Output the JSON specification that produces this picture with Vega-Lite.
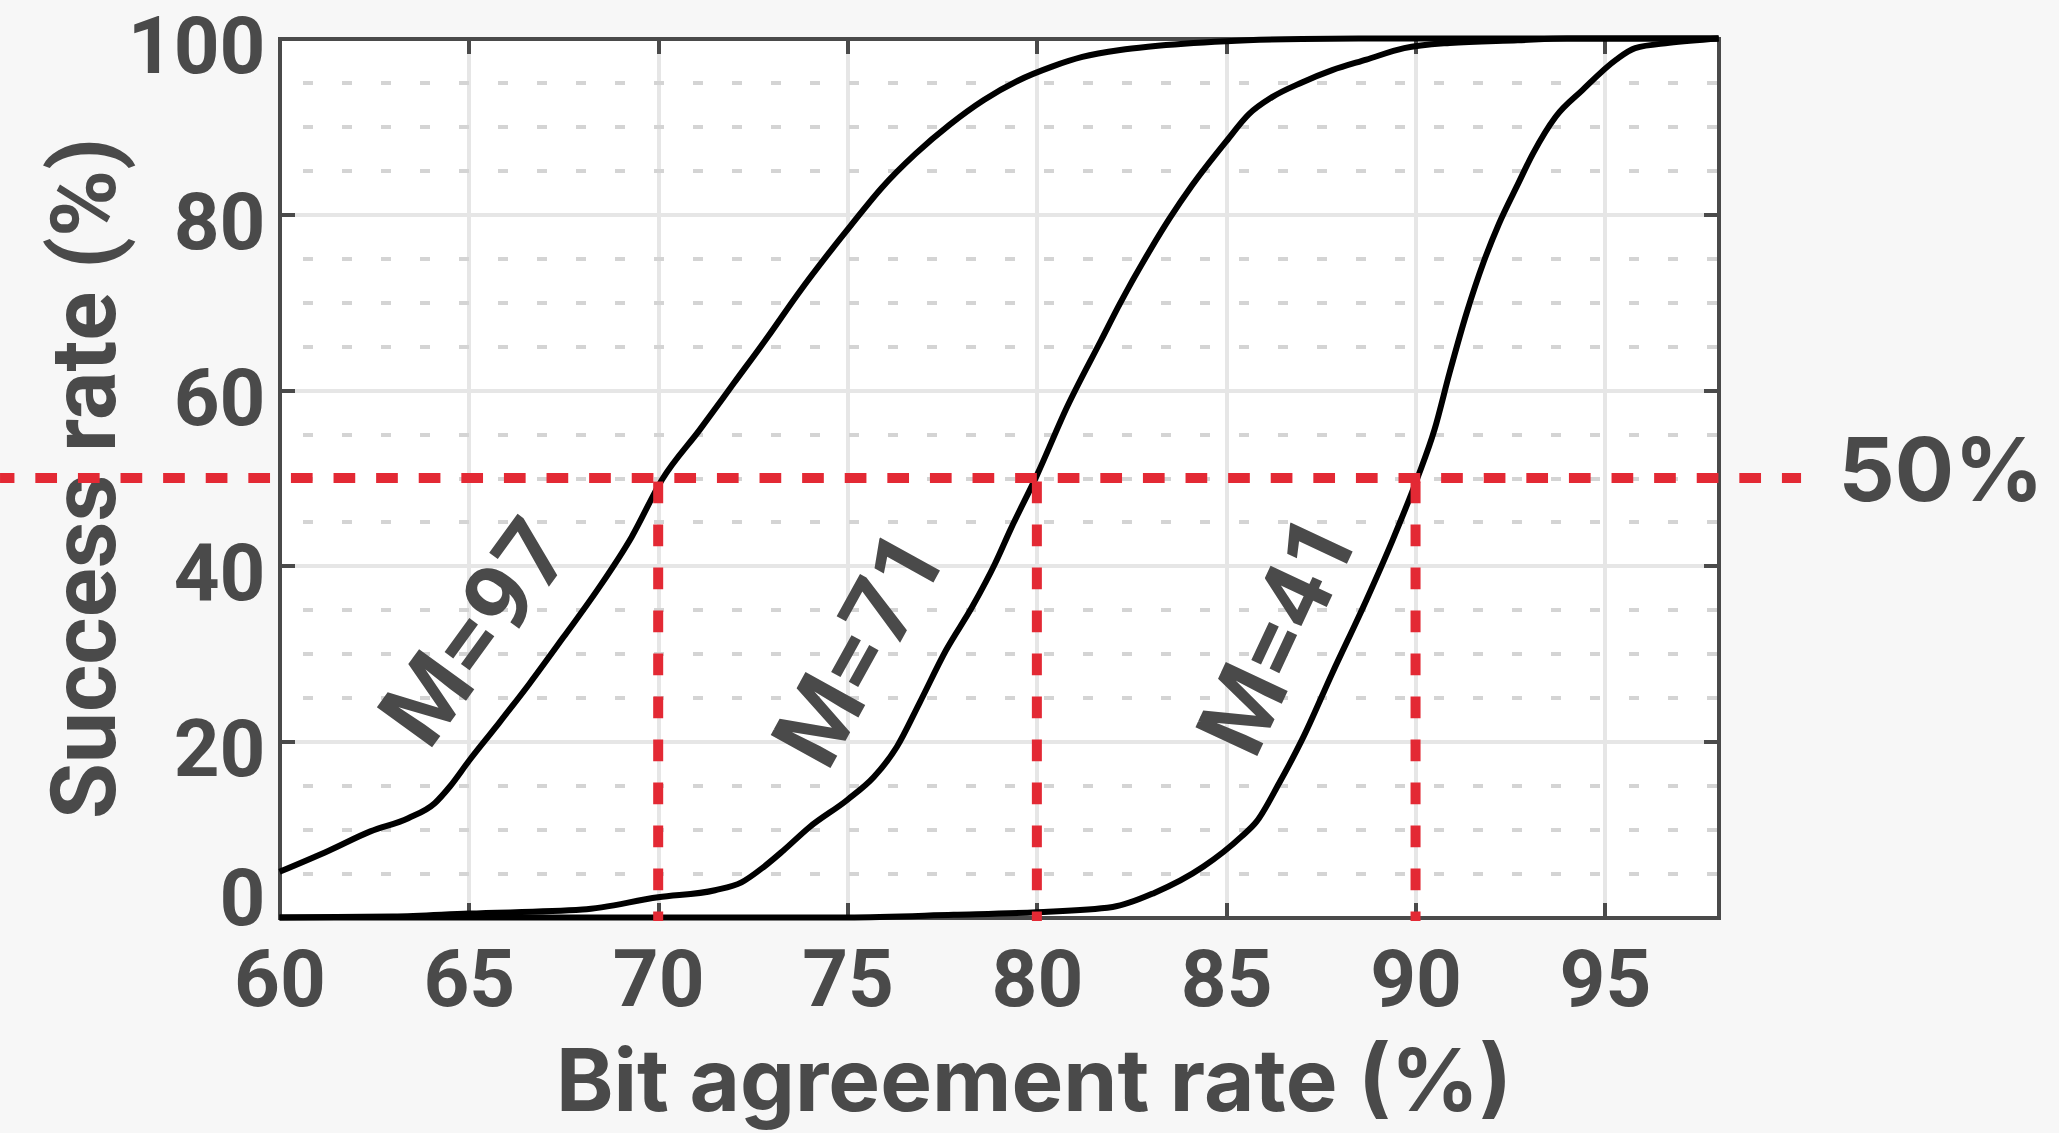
{
  "$schema": "https://vega.github.io/schema/vega-lite/v6.json",
  "width": 1439,
  "height": 879,
  "autosize": {"type": "none"},
  "padding": {"left": 279.5, "top": 38.5, "right": 340.5, "bottom": 215.5},
  "background": "#f7f7f7",
  "config": {
    "view": {"fill": "white", "stroke": null},
    "axis": {
      "domainColor": "#4a4a4a", "domainWidth": 4, "domainCap": "square",
      "tickColor": "#4a4a4a", "tickWidth": 4,
      "labelColor": "#4a4a4a", "titleColor": "#4a4a4a",
      "labelFont": "Roboto", "labelFontWeight": "bold", "labelFontSize": 80,
      "gridColor": "#e6e6e6", "gridWidth": 4,
      "labelFlush": false, "labelOverlap": false
    }
  },
  "datasets": {
    "curves": [
      {"curve": "M=97", "x": 60, "y": 5.2}, {"curve": "M=97", "x": 61.3, "y": 7.6}, {"curve": "M=97", "x": 62.4, "y": 9.8},
      {"curve": "M=97", "x": 63.4, "y": 11.3}, {"curve": "M=97", "x": 64.1, "y": 13.0}, {"curve": "M=97", "x": 64.5, "y": 14.9},
      {"curve": "M=97", "x": 65.0, "y": 17.8}, {"curve": "M=97", "x": 65.7, "y": 21.6}, {"curve": "M=97", "x": 66.6, "y": 26.6},
      {"curve": "M=97", "x": 67.5, "y": 31.9}, {"curve": "M=97", "x": 68.4, "y": 37.3}, {"curve": "M=97", "x": 69.3, "y": 43.3},
      {"curve": "M=97", "x": 70.1, "y": 49.8}, {"curve": "M=97", "x": 71.1, "y": 55.5}, {"curve": "M=97", "x": 72.0, "y": 60.8},
      {"curve": "M=97", "x": 72.9, "y": 66.1}, {"curve": "M=97", "x": 73.7, "y": 71.0}, {"curve": "M=97", "x": 74.6, "y": 76.1},
      {"curve": "M=97", "x": 75.1, "y": 78.8}, {"curve": "M=97", "x": 75.9, "y": 83.0}, {"curve": "M=97", "x": 76.8, "y": 86.9},
      {"curve": "M=97", "x": 77.7, "y": 90.2}, {"curve": "M=97", "x": 78.6, "y": 93.0}, {"curve": "M=97", "x": 79.5, "y": 95.2},
      {"curve": "M=97", "x": 80.4, "y": 96.8}, {"curve": "M=97", "x": 81.2, "y": 97.9}, {"curve": "M=97", "x": 82.2, "y": 98.7},
      {"curve": "M=97", "x": 83.0, "y": 99.1}, {"curve": "M=97", "x": 85.0, "y": 99.7}, {"curve": "M=97", "x": 87.0, "y": 99.95},
      {"curve": "M=97", "x": 88.5, "y": 100}, {"curve": "M=97", "x": 98, "y": 100},

      {"curve": "M=71", "x": 60, "y": 0}, {"curve": "M=71", "x": 63, "y": 0.1}, {"curve": "M=71", "x": 65, "y": 0.45},
      {"curve": "M=71", "x": 68, "y": 0.9}, {"curve": "M=71", "x": 70, "y": 2.3}, {"curve": "M=71", "x": 71.5, "y": 3.1},
      {"curve": "M=71", "x": 72.2, "y": 4.0}, {"curve": "M=71", "x": 72.8, "y": 5.8}, {"curve": "M=71", "x": 73.3, "y": 7.6},
      {"curve": "M=71", "x": 74.0, "y": 10.3}, {"curve": "M=71", "x": 75.0, "y": 13.4}, {"curve": "M=71", "x": 75.7, "y": 16.0},
      {"curve": "M=71", "x": 76.3, "y": 19.4}, {"curve": "M=71", "x": 76.9, "y": 24.4}, {"curve": "M=71", "x": 77.6, "y": 30.4},
      {"curve": "M=71", "x": 78.3, "y": 35.4}, {"curve": "M=71", "x": 78.9, "y": 40.3}, {"curve": "M=71", "x": 79.3, "y": 44.1},
      {"curve": "M=71", "x": 80.0, "y": 50.3}, {"curve": "M=71", "x": 80.8, "y": 58.1}, {"curve": "M=71", "x": 81.7, "y": 65.7},
      {"curve": "M=71", "x": 82.2, "y": 69.9}, {"curve": "M=71", "x": 83.0, "y": 76.0}, {"curve": "M=71", "x": 83.5, "y": 79.5},
      {"curve": "M=71", "x": 84.1, "y": 83.3}, {"curve": "M=71", "x": 85.0, "y": 88.3}, {"curve": "M=71", "x": 85.6, "y": 91.4},
      {"curve": "M=71", "x": 86.2, "y": 93.3}, {"curve": "M=71", "x": 87.0, "y": 95.0}, {"curve": "M=71", "x": 87.8, "y": 96.4},
      {"curve": "M=71", "x": 88.7, "y": 97.6}, {"curve": "M=71", "x": 89.7, "y": 98.9}, {"curve": "M=71", "x": 90.9, "y": 99.5},
      {"curve": "M=71", "x": 92.7, "y": 99.8}, {"curve": "M=71", "x": 94, "y": 100}, {"curve": "M=71", "x": 98, "y": 100},

      {"curve": "M=41", "x": 60, "y": 0}, {"curve": "M=41", "x": 75, "y": 0}, {"curve": "M=41", "x": 77.8, "y": 0.3},
      {"curve": "M=41", "x": 80.0, "y": 0.6}, {"curve": "M=41", "x": 82.0, "y": 1.2}, {"curve": "M=41", "x": 83.1, "y": 2.8},
      {"curve": "M=41", "x": 84.4, "y": 5.8}, {"curve": "M=41", "x": 85.4, "y": 9.2}, {"curve": "M=41", "x": 85.8, "y": 10.9},
      {"curve": "M=41", "x": 86.4, "y": 15.3}, {"curve": "M=41", "x": 87.0, "y": 20.2}, {"curve": "M=41", "x": 87.8, "y": 27.8},
      {"curve": "M=41", "x": 88.7, "y": 36.1}, {"curve": "M=41", "x": 89.4, "y": 43.0}, {"curve": "M=41", "x": 90.05, "y": 50.0},
      {"curve": "M=41", "x": 90.5, "y": 55.5}, {"curve": "M=41", "x": 90.9, "y": 62.0}, {"curve": "M=41", "x": 91.35, "y": 68.8},
      {"curve": "M=41", "x": 91.8, "y": 74.6}, {"curve": "M=41", "x": 92.2, "y": 78.9}, {"curve": "M=41", "x": 92.7, "y": 83.4},
      {"curve": "M=41", "x": 93.1, "y": 86.9}, {"curve": "M=41", "x": 93.7, "y": 91.1}, {"curve": "M=41", "x": 94.4, "y": 94.1},
      {"curve": "M=41", "x": 95.3, "y": 97.6}, {"curve": "M=41", "x": 95.8, "y": 98.9}, {"curve": "M=41", "x": 96.7, "y": 99.5},
      {"curve": "M=41", "x": 98, "y": 100}
    ],
    "hline": [{"x": 52.62, "x2": 100.18, "y": 50}],
    "vlines": [{"x": 70, "y": 50, "y2": -0.4}, {"x": 80, "y": 50, "y2": -0.4}, {"x": 90, "y": 50, "y2": -0.4}],
    "labels": [
      {"label": "M=97", "x": 65.25, "y": 32.2},
      {"label": "M=71", "x": 75.4, "y": 30.4},
      {"label": "M=41", "x": 86.45, "y": 32.0},
      {"label": "50%", "x": 101.17, "y": 50}
    ]
  },
  "layer": [
    {
      "data": {"name": "curves"},
      "mark": {"type": "line", "color": "black", "strokeWidth": 6, "interpolate": "monotone", "clip": false},
      "encoding": {
        "x": {
          "field": "x", "type": "quantitative",
          "scale": {"domain": [60, 98], "nice": false, "zero": false},
          "axis": {
            "orient": "bottom",
            "values": [60, 65, 70, 75, 80, 85, 90, 95],
            "grid": true, "tickSize": -15, "labelPadding": 39.5,
            "title": "Bit agreement rate (%)",
            "titleFont": "Inter", "titleFontSize": 87, "titleFontWeight": "bold", "titlePadding": 20,
            "titleX": 754, "titleAlign": "center"
          }
        },
        "y": {
          "field": "y", "type": "quantitative",
          "scale": {"domain": [0, 100], "nice": false},
          "axis": {
            "orient": "left",
            "values": [0, 5, 10, 15, 20, 25, 30, 35, 40, 45, 50, 55, 60, 65, 70, 75, 80, 85, 90, 95, 100],
            "labelExpr": "datum.value % 20 === 0 ? datum.label : ''",
            "grid": true,
            "gridDash": {"condition": {"test": "datum.value % 20 === 0", "value": [1, 0]}, "value": [10, 29]},
            "gridColor": {"condition": {"test": "datum.value % 20 === 0", "value": "#e6e6e6"}, "value": "#d4d4d4"},
            "gridDashOffset": 16,
            "tickOpacity": {"condition": {"test": "datum.value % 20 === 0", "value": 1}, "value": 0},
            "tickSize": -15, "labelPadding": 29.5,
            "labelOffset": {"condition": {"test": "datum.value === 0", "value": -17}, "value": 10},
            "title": "Success rate (%)",
            "titleFont": "Roboto", "titleFontSize": 91, "titleFontWeight": "bold", "titlePadding": -6
          }
        },
        "detail": {"field": "curve", "type": "nominal"}
      }
    },
    {
      "data": {"name": "hline"},
      "mark": {"type": "rule", "color": "#e32934", "strokeWidth": 10, "strokeDash": [21.7, 20.9], "strokeDashOffset": 7.3, "clip": false},
      "encoding": {
        "x": {
          "field": "x", "type": "quantitative",
          "axis": {"orient": "top", "values": [65, 70, 75, 80, 85, 90, 95], "labels": false, "grid": false, "tickSize": -15, "title": null}
        },
        "x2": {"field": "x2"},
        "y": {
          "field": "y", "type": "quantitative",
          "axis": {"orient": "right", "values": [20, 40, 60, 80], "labels": false, "grid": false, "tickSize": -15, "title": null}
        }
      }
    },
    {
      "data": {"name": "vlines"},
      "mark": {"type": "rule", "color": "#e32934", "strokeWidth": 10, "strokeDash": [21.7, 21.3], "strokeDashOffset": -3.5, "clip": false},
      "encoding": {
        "x": {"field": "x", "type": "quantitative", "axis": null},
        "y": {"field": "y", "type": "quantitative", "axis": null},
        "y2": {"field": "y2"}
      }
    },
    {
      "data": {"name": "labels"},
      "transform": [{"filter": "datum.label === 'M=97'"}],
      "mark": {"type": "text", "angle": 306, "font": "Roboto", "fontWeight": "bold", "fontSize": 96, "color": "#4a4a4a", "align": "center", "baseline": "middle"},
      "encoding": {
        "x": {"field": "x", "type": "quantitative", "axis": null},
        "y": {"field": "y", "type": "quantitative", "axis": null},
        "text": {"field": "label"}
      }
    },
    {
      "data": {"name": "labels"},
      "transform": [{"filter": "datum.label === 'M=71'"}],
      "mark": {"type": "text", "angle": 299, "font": "Roboto", "fontWeight": "bold", "fontSize": 96, "color": "#4a4a4a", "align": "center", "baseline": "middle"},
      "encoding": {
        "x": {"field": "x", "type": "quantitative", "axis": null},
        "y": {"field": "y", "type": "quantitative", "axis": null},
        "text": {"field": "label"}
      }
    },
    {
      "data": {"name": "labels"},
      "transform": [{"filter": "datum.label === 'M=41'"}],
      "mark": {"type": "text", "angle": 295, "font": "Roboto", "fontWeight": "bold", "fontSize": 96, "color": "#4a4a4a", "align": "center", "baseline": "middle"},
      "encoding": {
        "x": {"field": "x", "type": "quantitative", "axis": null},
        "y": {"field": "y", "type": "quantitative", "axis": null},
        "text": {"field": "label"}
      }
    },
    {
      "data": {"name": "labels"},
      "transform": [{"filter": "datum.label === '50%'"}],
      "mark": {"type": "text", "font": "Inter", "fontWeight": "bold", "fontSize": 88, "color": "#4a4a4a", "align": "left", "baseline": "middle", "dy": -3, "clip": false},
      "encoding": {
        "x": {"field": "x", "type": "quantitative", "axis": null},
        "y": {"field": "y", "type": "quantitative", "axis": null},
        "text": {"field": "label"}
      }
    }
  ],
  "resolve": {"axis": {"x": "independent", "y": "independent"}}
}
